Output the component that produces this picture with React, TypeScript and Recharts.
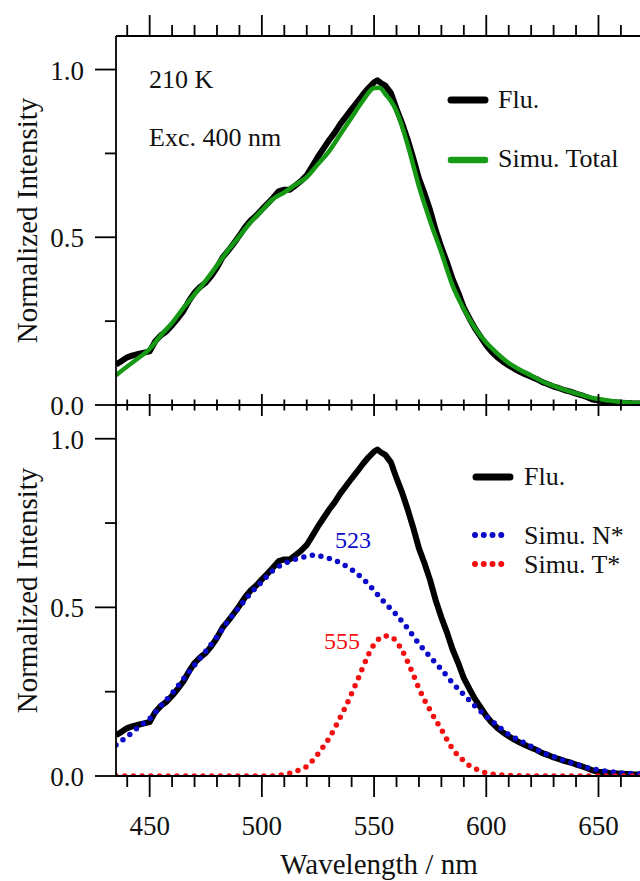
import React from 'react';
import { LineChart, Line, XAxis, YAxis } from 'recharts';

const FONT = '"Liberation Serif", "Times New Roman", Times, serif';
const AXIS = '#000';
const AW = 1.8;
const BLACK = '#000000';
const GREEN = '#169a16';
const BLUE = '#0a0ac8';
const RED = '#f41010';

// ---------- data ----------
const fluWavelength = [
  435, 437.5, 440, 442.5, 445, 447.5, 450, 452.5, 455, 457.5, 460, 462.5, 465, 467.5, 470, 472.5,
  475, 477.5, 480, 482.5, 485, 487.5, 490, 492.5, 495, 497.5, 500, 502.5, 505, 507.5, 510, 512.5,
  515, 517.5, 520, 522.5, 525, 527.5, 530, 532.5, 535, 537.5, 540, 542.5, 545, 547.5, 550, 551.5,
  553, 555, 557.5, 560, 562.5, 565, 567.5, 570, 572.5, 575, 577.5, 580, 582.5, 585, 587.5, 590,
  592.5, 595, 597.5, 600, 602.5, 605, 607.5, 610, 612.5, 615, 617.5, 620, 622.5, 625, 627.5, 630,
  632.5, 635, 637.5, 640, 642.5, 645, 647.5, 650, 652.5, 655, 660, 665, 670,
];
const fluIntensity = [
  0.121, 0.131, 0.142, 0.148, 0.152, 0.156, 0.160, 0.190, 0.208, 0.220, 0.238, 0.258, 0.280, 0.310, 0.335, 0.352,
  0.365, 0.385, 0.410, 0.440, 0.460, 0.482, 0.505, 0.530, 0.550, 0.565, 0.583, 0.600, 0.618, 0.637, 0.642, 0.642,
  0.655, 0.668, 0.685, 0.712, 0.740, 0.765, 0.790, 0.812, 0.838, 0.860, 0.882, 0.903, 0.925, 0.945, 0.962, 0.968,
  0.960, 0.952, 0.930, 0.883, 0.840, 0.790, 0.735, 0.675, 0.630, 0.580, 0.520, 0.470, 0.425, 0.375, 0.335, 0.290,
  0.258, 0.228, 0.203, 0.178, 0.158, 0.142, 0.129, 0.118, 0.108, 0.099, 0.091, 0.084, 0.077, 0.068, 0.062, 0.055,
  0.050, 0.044, 0.040, 0.034, 0.029, 0.023, 0.016, 0.013, 0.011, 0.009, 0.007, 0.005, 0.004,
];

const totalWavelength = [
  435, 440, 445, 450, 455, 460, 465, 470, 475, 480, 485, 490, 495, 500, 505, 510, 515, 520, 525, 530,
  535, 540, 545, 550, 552.5, 555, 557.5, 560, 565, 570, 575, 580, 585, 590, 595, 600, 605, 610, 615,
  620, 625, 630, 635, 640, 645, 650, 655, 660, 665, 670,
];
const totalIntensity = [
  0.089, 0.115, 0.140, 0.167, 0.208, 0.245, 0.289, 0.330, 0.371, 0.416, 0.462, 0.503, 0.545, 0.580, 0.614, 0.634,
  0.657, 0.679, 0.718, 0.757, 0.807, 0.857, 0.907, 0.945, 0.946, 0.927, 0.906, 0.876, 0.775, 0.652, 0.548, 0.454,
  0.356, 0.286, 0.229, 0.186, 0.153, 0.125, 0.105, 0.088, 0.070, 0.057, 0.045, 0.035, 0.025, 0.018, 0.013, 0.009,
  0.007, 0.006,
];

const nWavelength = [
  435, 440, 445, 450, 455, 460, 465, 470, 475, 480, 485, 490, 495, 500, 505, 510, 515, 520, 523, 525,
  530, 535, 540, 545, 550, 555, 560, 565, 570, 575, 580, 585, 590, 595, 600, 605, 610, 615, 620, 625,
  630, 635, 640, 645, 650, 655, 660, 665, 670,
];
const nIntensity = [
  0.092, 0.117, 0.145, 0.170, 0.208, 0.245, 0.287, 0.329, 0.370, 0.413, 0.460, 0.501, 0.542, 0.576, 0.610, 0.630,
  0.643, 0.651, 0.655, 0.653, 0.645, 0.632, 0.612, 0.585, 0.550, 0.512, 0.478, 0.437, 0.392, 0.353, 0.316, 0.276,
  0.241, 0.207, 0.177, 0.149, 0.123, 0.105, 0.088, 0.070, 0.057, 0.045, 0.035, 0.025, 0.018, 0.013, 0.009, 0.007,
  0.006,
];

const tWavelength = [
  435, 445, 455, 465, 475, 485, 495, 505, 507.5, 510, 512.5, 515, 517.5, 520, 522.5, 525, 527.5, 530, 532.5,
  535, 537.5, 540, 542.5, 545, 547.5, 550, 552.5, 555, 557.5, 560, 562.5, 565, 567.5, 570, 572.5, 575, 577.5,
  580, 582.5, 585, 587.5, 590, 592.5, 595, 597.5, 600, 602.5, 605, 610, 620, 630, 640, 650, 660, 670,
];
const tIntensity = [
  0, 0, 0, 0, 0, 0, 0, 0, 0.002, 0.004, 0.008, 0.014, 0.020, 0.028, 0.045, 0.065, 0.088, 0.112, 0.142,
  0.175, 0.208, 0.245, 0.282, 0.322, 0.360, 0.390, 0.408, 0.415, 0.413, 0.398, 0.372, 0.338, 0.300, 0.260, 0.225, 0.195, 0.165,
  0.138, 0.108, 0.080, 0.060, 0.045, 0.031, 0.022, 0.014, 0.009, 0.006, 0.004, 0.002, 0, 0, 0, 0, 0, 0,
];

const xTicks = [440, 450, 460, 470, 480, 490, 500, 510, 520, 530, 540, 550, 560, 570, 580, 590, 600, 610, 620, 630, 640, 650, 660];
const yTicks = [0, 0.25, 0.5, 0.75, 1.0];
const X_DOMAIN: [number, number] = [435, 668.5];
const Y_DOMAIN: [number, number] = [0, 1.1];

const zip = (xs: number[], ys: number[]) => xs.map((x, i) => ({ x, y: ys[i] }));
const fluData = zip(fluWavelength, fluIntensity);
const totalData = zip(totalWavelength, totalIntensity);
const nData = zip(nWavelength, nIntensity);
const tData = zip(tWavelength, tIntensity);

// ---------- ticks ----------
const makeXTick = (mode: 'up' | 'cross' | 'down') => (props: any) => {
  const { x, y, payload } = props;
  const v = Number(payload.value);
  const major = Math.abs(v % 50) < 1e-6;
  let y1: number;
  let y2: number;
  if (mode === 'up') {
    y1 = y - (major ? 21 : 11);
    y2 = y;
  } else if (mode === 'cross') {
    y1 = y - (major ? 11 : 5.5);
    y2 = y + (major ? 11 : 5.5);
  } else {
    y1 = y;
    y2 = y + (major ? 21 : 11);
  }
  return (
    <g>
      <line x1={x} x2={x} y1={y1} y2={y2} stroke={AXIS} strokeWidth={AW} />
      {mode === 'down' && major ? (
        <text x={x} y={y + 59} textAnchor="middle" fontFamily={FONT} fontSize={27} fill="#111">
          {v}
        </text>
      ) : null}
    </g>
  );
};

const YTick = (props: any) => {
  const { x, y, payload } = props;
  const v = Number(payload.value);
  const major = Math.abs(v * 2 - Math.round(v * 2)) < 1e-6;
  return (
    <g>
      <line x1={x - (major ? 21 : 11)} x2={x} y1={y} y2={y} stroke={AXIS} strokeWidth={AW} />
      {major ? (
        <text x={x - 32} y={y + 10} textAnchor="end" fontFamily={FONT} fontSize={27} fill="#111">
          {v.toFixed(1)}
        </text>
      ) : null}
    </g>
  );
};

const axisLine = { stroke: AXIS, strokeWidth: AW };
const DOTS = '0 8.7';

export default function App() {
  const textStyle = { fontFamily: FONT, fill: '#111' } as React.CSSProperties;
  return (
    <div style={{ position: 'absolute', left: 0, top: 0, width: 640, height: 881, background: '#fff', overflow: 'hidden' }}>
      {/* Top panel */}
      <div style={{ position: 'absolute', left: 0, top: 0 }}>
        <LineChart width={640} height={420} margin={{ top: 0, right: 0, bottom: 0, left: 0 }}>
          <XAxis
            xAxisId="t"
            orientation="top"
            type="number"
            dataKey="x"
            domain={X_DOMAIN}
            allowDataOverflow
            ticks={xTicks}
            interval={0}
            height={36}
            tickSize={0}
            tickMargin={0}
            tickLine={false}
            axisLine={axisLine}
            tick={makeXTick('up')}
          />
          <XAxis
            xAxisId="b"
            orientation="bottom"
            type="number"
            dataKey="x"
            domain={X_DOMAIN}
            allowDataOverflow
            ticks={xTicks}
            interval={0}
            height={15}
            tickSize={0}
            tickMargin={0}
            tickLine={false}
            axisLine={axisLine}
            tick={makeXTick('cross')}
          />
          <YAxis
            type="number"
            domain={Y_DOMAIN}
            allowDataOverflow
            ticks={yTicks}
            interval={0}
            width={116}
            tickSize={0}
            tickMargin={0}
            tickLine={false}
            axisLine={axisLine}
            tick={YTick}
          />
          <Line xAxisId="t" data={fluData} dataKey="y" stroke="none" dot={false} activeDot={false} isAnimationActive={false} />
          <Line xAxisId="b" data={fluData} dataKey="y" type="linear" stroke={BLACK} strokeWidth={6} strokeLinejoin="round" dot={false} activeDot={false} isAnimationActive={false} />
          <Line xAxisId="b" data={totalData} dataKey="y" type="monotone" stroke={GREEN} strokeWidth={4.5} dot={false} activeDot={false} isAnimationActive={false} />
        </LineChart>
      </div>

      {/* Bottom panel */}
      <div style={{ position: 'absolute', left: 0, top: 405 }}>
        <LineChart width={640} height={476} margin={{ top: 0, right: 0, bottom: 0, left: 0 }}>
          <XAxis
            orientation="bottom"
            type="number"
            dataKey="x"
            domain={X_DOMAIN}
            allowDataOverflow
            ticks={xTicks}
            interval={0}
            height={105}
            tickSize={0}
            tickMargin={0}
            tickLine={false}
            axisLine={axisLine}
            tick={makeXTick('down')}
          />
          <YAxis
            type="number"
            domain={Y_DOMAIN}
            allowDataOverflow
            ticks={yTicks}
            interval={0}
            width={116}
            tickSize={0}
            tickMargin={0}
            tickLine={false}
            axisLine={axisLine}
            tick={YTick}
          />
          <Line data={fluData} dataKey="y" type="linear" stroke={BLACK} strokeWidth={6} strokeLinejoin="round" dot={false} activeDot={false} isAnimationActive={false} />
          <Line data={nData} dataKey="y" type="monotone" stroke={BLUE} strokeWidth={5.5} strokeDasharray={DOTS} strokeLinecap="round" dot={false} activeDot={false} isAnimationActive={false} />
          <Line data={tData} dataKey="y" type="monotone" stroke={RED} strokeWidth={5.5} strokeDasharray={DOTS} strokeLinecap="round" dot={false} activeDot={false} isAnimationActive={false} />
        </LineChart>
      </div>

      {/* Titles, annotations, legends */}
      <svg width={640} height={881} style={{ position: 'absolute', left: 0, top: 0, pointerEvents: 'none' }}>
        <text transform="translate(37,220.5) rotate(-90)" textAnchor="middle" fontSize={29} style={textStyle}>Normalized Intensity</text>
        <text transform="translate(37,590.5) rotate(-90)" textAnchor="middle" fontSize={29} style={textStyle}>Normalized Intensity</text>
        <text x={379} y={874} textAnchor="middle" fontSize={29} style={textStyle}>Wavelength / nm</text>

        <text x={149} y={88} fontSize={26} style={textStyle}>210 K</text>
        <text x={149} y={146} fontSize={26} style={textStyle}>Exc. 400 nm</text>

        {/* top legend */}
        <line x1={451} x2={485} y1={100} y2={100} stroke={BLACK} strokeWidth={7} strokeLinecap="round" />
        <text x={498} y={108} fontSize={26} style={textStyle}>Flu.</text>
        <line x1={451} x2={485} y1={160} y2={160} stroke={GREEN} strokeWidth={6.5} strokeLinecap="round" />
        <text x={498} y={167} fontSize={26} style={textStyle}>Simu. Total</text>

        {/* bottom legend */}
        <line x1={476} x2={510} y1={477} y2={477} stroke={BLACK} strokeWidth={7} strokeLinecap="round" />
        <text x={524} y={485} fontSize={26} style={textStyle}>Flu.</text>
        <line x1={475} x2={510} y1={535} y2={535} stroke={BLUE} strokeWidth={6} strokeDasharray="0 8.75" strokeLinecap="round" />
        <text x={524} y={544} fontSize={26} style={textStyle}>Simu. N*</text>
        <line x1={475} x2={510} y1={564} y2={564} stroke={RED} strokeWidth={6} strokeDasharray="0 8.75" strokeLinecap="round" />
        <text x={524} y={573} fontSize={26} style={textStyle}>Simu. T*</text>

        <text x={335} y={548} fontSize={24} fontFamily={FONT} fill={BLUE}>523</text>
        <text x={324} y={649} fontSize={24} fontFamily={FONT} fill={RED}>555</text>
      </svg>
    </div>
  );
}
